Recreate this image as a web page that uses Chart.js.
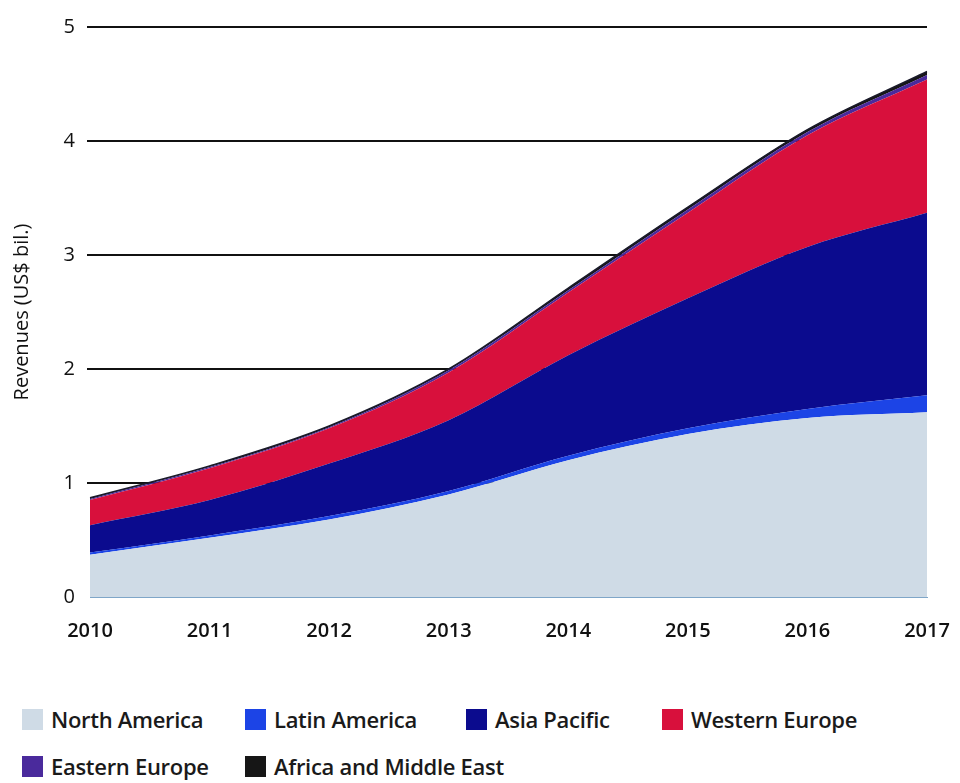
<!DOCTYPE html>
<html>
<head>
<meta charset="utf-8">
<script src="https://cdn.jsdelivr.net/npm/chart.js@4"></script>
<style>
  html, body { margin: 0; padding: 0; background: #fff; }
  #wrap { position: relative; width: 960px; height: 783px; }
  #chartBox { position: absolute; left: 0; top: 0; width: 960px; height: 650px; }
  #legend {
    position: absolute; left: 22px; top: 705px;
    display: grid; grid-template-columns: 223px 221px 196px auto; row-gap: 19px;
    font-family: "Open Sans", sans-serif; font-size: 22px; font-weight: 600;
    color: #1a1a1a; letter-spacing: -0.3px;
  }
  .item { display: flex; align-items: center; height: 28px; white-space: nowrap; }
  .swatch { flex-shrink: 0; width: 21px; height: 21px; margin-right: 8px; }
</style>
</head>
<body>
<div id="wrap">
  <div id="chartBox"><canvas id="revenueChart"></canvas></div>
  <div id="legend"></div>
</div>
<script>
  const years = ['2010', '2011', '2012', '2013', '2014', '2015', '2016', '2017'];

  // revenue per region, US$ billions (stacked)
  const northAmerica   = [0.37, 0.52, 0.68, 0.90, 1.20, 1.43, 1.57, 1.62];
  const latinAmerica   = [0.02, 0.02, 0.03, 0.03, 0.04, 0.05, 0.08, 0.15];
  const asiaPacific    = [0.24, 0.31, 0.46, 0.62, 0.88, 1.14, 1.42, 1.60];
  const westernEurope  = [0.22, 0.28, 0.31, 0.42, 0.55, 0.75, 0.98, 1.17];
  const easternEurope  = [0.01, 0.01, 0.01, 0.02, 0.02, 0.03, 0.03, 0.04];
  const africaMidEast  = [0.01, 0.01, 0.01, 0.01, 0.02, 0.02, 0.02, 0.03];

  const yTicks = [0, 1, 2, 3, 4, 5];

  const regions = [
    { label: 'North America', data: northAmerica, color: '#cfdbe6' },
    { label: 'Latin America', data: latinAmerica, color: '#1c44e6' },
    { label: 'Asia Pacific', data: asiaPacific, color: '#0b0b8e' },
    { label: 'Western Europe', data: westernEurope, color: '#d8103c' },
    { label: 'Eastern Europe', data: easternEurope, color: '#4a2a9c' },
    { label: 'Africa and Middle East', data: africaMidEast, color: '#161616' }
  ];

  const datasets = regions.map((r, i) => ({
    label: r.label,
    data: r.data,
    backgroundColor: r.color,
    borderColor: i === regions.length - 1 ? '#1a1a2a' : r.color,
    borderWidth: i === regions.length - 1 ? 1.5 : 0,
    fill: i === 0 ? 'origin' : '-1',
    pointRadius: 0,
    cubicInterpolationMode: 'monotone'
  }));

  const ctx = document.getElementById('revenueChart').getContext('2d');
  new Chart(ctx, {
    type: 'line',
    data: { labels: years, datasets: datasets },
    options: {
      responsive: true,
      maintainAspectRatio: false,
      animation: false,
      layout: { padding: { left: 0, right: 33, top: 27, bottom: 0 } },
      plugins: { legend: { display: false }, tooltip: { enabled: false } },
      scales: {
        x: {
          offset: false,
          grid: { display: false, drawTicks: false },
          border: { display: true, color: '#7fa6c8', width: 1 },
          ticks: {
            padding: 22,
            color: '#111',
            font: { family: 'Open Sans', size: 20, weight: '600' }
          },
          afterFit: scale => {
            scale.height = 53;
            scale.paddingLeft = 0;
            scale.paddingRight = 0;
          }
        },
        y: {
          stacked: true,
          min: 0,
          max: 5,
          afterBuildTicks: scale => { scale.ticks = yTicks.map(v => ({ value: v })); },
          grid: {
            color: c => c.tick.value === 0 ? 'rgba(0,0,0,0)' : '#111',
            lineWidth: 2,
            drawTicks: true,
            tickLength: 3
          },
          border: { display: false },
          ticks: {
            padding: 12,
            color: '#111',
            font: { family: 'Open Sans', size: 20 }
          },
          title: {
            display: true,
            text: 'Revenues (US$ bil.)',
            color: '#111',
            padding: { top: 10, bottom: 0 },
            font: { family: 'Open Sans', size: 20 }
          },
          afterFit: scale => { scale.width = 90; }
        }
      }
    }
  });

  // legend laid out in two rows under the plot
  const legend = document.getElementById('legend');
  regions.forEach(r => {
    const item = document.createElement('div');
    item.className = 'item';
    item.innerHTML = `<span class="swatch" style="background:${r.color}"></span>${r.label}`;
    legend.appendChild(item);
  });
</script>
</body>
</html>
